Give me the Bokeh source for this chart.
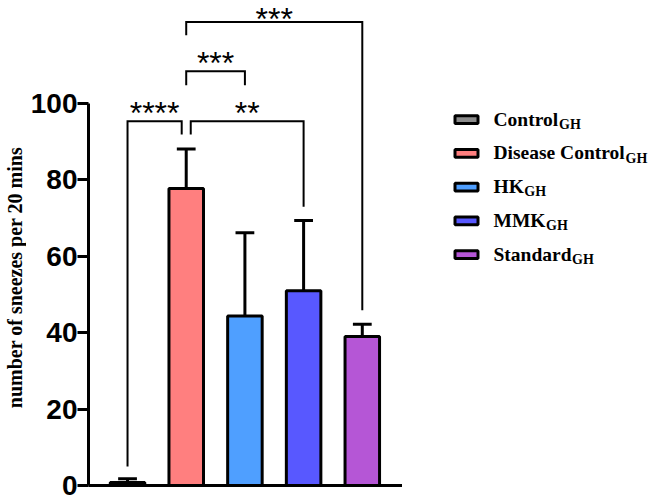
import math
from bokeh.plotting import figure
from bokeh.models import Range1d, FixedTicker
from bokeh.layouts import row
from bokeh.core.properties import value
from bokeh.embed import file_html
from bokeh.resources import INLINE

# ---- data -------------------------------------------------------------
groups = ["Control", "Disease Control", "HK", "MMK", "Standard"]
subscript = "GH"
means = [0.8, 77.8, 44.4, 51.0, 39.0]
errors = [1.0, 10.3, 21.8, 18.4, 3.2]
colors = ["#8c8c8c", "#ff7f7f", "#4f9fff", "#5858ff", "#b556d6"]

y_ticks = [0, 20, 40, 60, 80, 100]
y_title = "number of sneezes per 20 mins"

# significance brackets: group pair, stars, bracket height, leg ends
cmp_left = [0, 1, 1, 1]
cmp_right = [1, 3, 2, 4]
cmp_stars = ["****", "**", "***", "***"]
cmp_top = [95.4, 95.4, 108.5, 121.4]
cmp_left_end = [5.0, 91.9, 104.8, 117.9]
cmp_right_end = [91.9, 73.0, 104.8, 45.9]
cmp_left_shift = [0.0, 0.077, 0.0, 0.0]
cmp_right_shift = [-0.077, 0.0, 0.0, 0.0]

H = 501
STRIP_W = 26
MAIN_W = 402 - STRIP_W
LEGEND_W = 654 - 402
X0, X1 = 0.335, 5.685
Y1 = 127.0
BORDER_LEFT, BORDER_BOTTOM = 88 - STRIP_W, 16
px_per_y = (H - BORDER_BOTTOM) / Y1


def bare(fig):
    fig.outline_line_color = None
    fig.xgrid.visible = False
    fig.ygrid.visible = False
    fig.background_fill_color = "white"
    fig.border_fill_color = "white"


# ---- y-axis title strip -------------------------------------------------
tf = figure(width=STRIP_W, height=H, x_range=Range1d(0, STRIP_W), y_range=Range1d(0, H),
            output_backend="svg", toolbar_location=None,
            x_axis_location=None, y_axis_location=None, min_border=0)
bare(tf)
tf.text(x=[14.8], y=[H - 286], text=[y_title], angle=math.pi / 2,
        text_align="center", text_baseline="middle",
        text_font=value("Liberation Serif"), text_font_style="bold",
        text_font_size="20px", text_color="black")

# ---- main chart ---------------------------------------------------------
xs = [i + 1 for i in range(len(groups))]

p = figure(width=MAIN_W, height=H,
           x_range=Range1d(X0, X1), y_range=Range1d(0, Y1),
           output_backend="svg", toolbar_location=None,
           min_border_left=BORDER_LEFT, min_border_right=0,
           min_border_top=0, min_border_bottom=BORDER_BOTTOM)
bare(p)

# x axis: bare baseline
p.xaxis.ticker = FixedTicker(ticks=[])
p.xaxis.axis_line_width = 3
p.xaxis.axis_line_color = "black"
p.xaxis.major_tick_line_color = None
p.xaxis.minor_tick_line_color = None
p.xaxis.major_label_text_font_size = "0px"

# y axis
ya = p.yaxis[0]
ya.ticker = FixedTicker(ticks=y_ticks)
ya.bounds = (0, 100)
ya.axis_line_width = 3
ya.axis_line_color = "black"
ya.major_tick_line_width = 3
ya.major_tick_line_color = "black"
ya.major_tick_in = 0
ya.major_tick_out = 11
ya.minor_tick_line_color = None
ya.major_label_standoff = 0
ya.major_label_text_font = "Liberation Sans"
ya.major_label_text_font_style = "bold"
ya.major_label_text_font_size = "28px"
ya.major_label_text_color = "black"

bar_width = 0.588
cap_half = 0.16

p.vbar(x=xs, top=means, width=bar_width, bottom=0,
       fill_color=colors, line_color="black", line_width=3)

tops = [m + e for m, e in zip(means, errors)]
p.segment(x0=xs, y0=means, x1=xs, y1=tops, line_color="black", line_width=3)
p.segment(x0=[x - cap_half for x in xs], y0=tops,
          x1=[x + cap_half for x in xs], y1=tops,
          line_color="black", line_width=3)

# significance brackets
bx, by = [], []
for a, b, t, le, re, ls, rs in zip(cmp_left, cmp_right, cmp_top, cmp_left_end,
                                   cmp_right_end, cmp_left_shift, cmp_right_shift):
    xl = xs[a] + ls
    xr = xs[b] + rs
    bx.append([xl, xl, xr, xr])
    by.append([le, t, t, re])
p.multi_line(xs=bx, ys=by, line_color="black", line_width=2, line_join="miter")

# star labels sit above each bracket, kept inside the top edge
star_size = 32
star_gap = 8.1 / px_per_y
star_limit = Y1 - (0.56 * star_size + 0.5) / px_per_y
star_x = [(xs[a] + s1 + xs[b] + s2) / 2 for a, b, s1, s2 in
          zip(cmp_left, cmp_right, cmp_left_shift, cmp_right_shift)]
star_y = [min(t + star_gap, star_limit) for t in cmp_top]
p.text(x=star_x, y=star_y, text=cmp_stars, text_align="center",
       text_baseline="middle", text_font=value("Liberation Sans"),
       text_font_size=f"{star_size}px", text_color="black")

# ---- legend panel ------------------------------------------------------
# Times/Liberation Serif Bold advance widths (per 1000 em)
serif_bold_w = {"C": 722, "o": 500, "n": 556, "t": 333, "r": 444, "l": 278,
                "D": 722, "i": 278, "s": 389, "e": 444, "a": 500, " ": 250,
                "H": 778, "K": 778, "M": 944, "S": 556, "d": 556, "G": 778}


def text_width(s, size):
    return sum(serif_bold_w.get(ch, 500) for ch in s) * size / 1000.0


lf = figure(width=LEGEND_W, height=H, x_range=Range1d(0, LEGEND_W), y_range=Range1d(H, 0),
            output_backend="svg", toolbar_location=None,
            x_axis_location=None, y_axis_location=None,
            min_border=0)
bare(lf)

row0, row_step = 123.0, 34.9
sw_x, txt_x = 64.0, 91.0
main_size, sub_size = 19.5, 14.0
ly = [row0 + i * row_step for i in range(len(groups))]

lf.rect(x=[sw_x] * len(groups), y=ly, width=23, height=8,
        fill_color=colors, line_color="black", line_width=3)
lf.text(x=[txt_x] * len(groups), y=[v - 0.5 for v in ly], text=groups,
        text_align="left", text_baseline="middle",
        text_font=value("Liberation Serif"), text_font_style="bold",
        text_font_size=f"{main_size}px", text_color="black")
lf.text(x=[txt_x + text_width(g, main_size) + 0.5 for g in groups],
        y=[v + 4.8 for v in ly], text=[subscript] * len(groups),
        text_align="left", text_baseline="middle",
        text_font=value("Liberation Serif"), text_font_style="bold",
        text_font_size=f"{sub_size}px", text_color="black")

layout = row(tf, p, lf, spacing=0)
open("out.html", "w").write(file_html(layout, INLINE))
